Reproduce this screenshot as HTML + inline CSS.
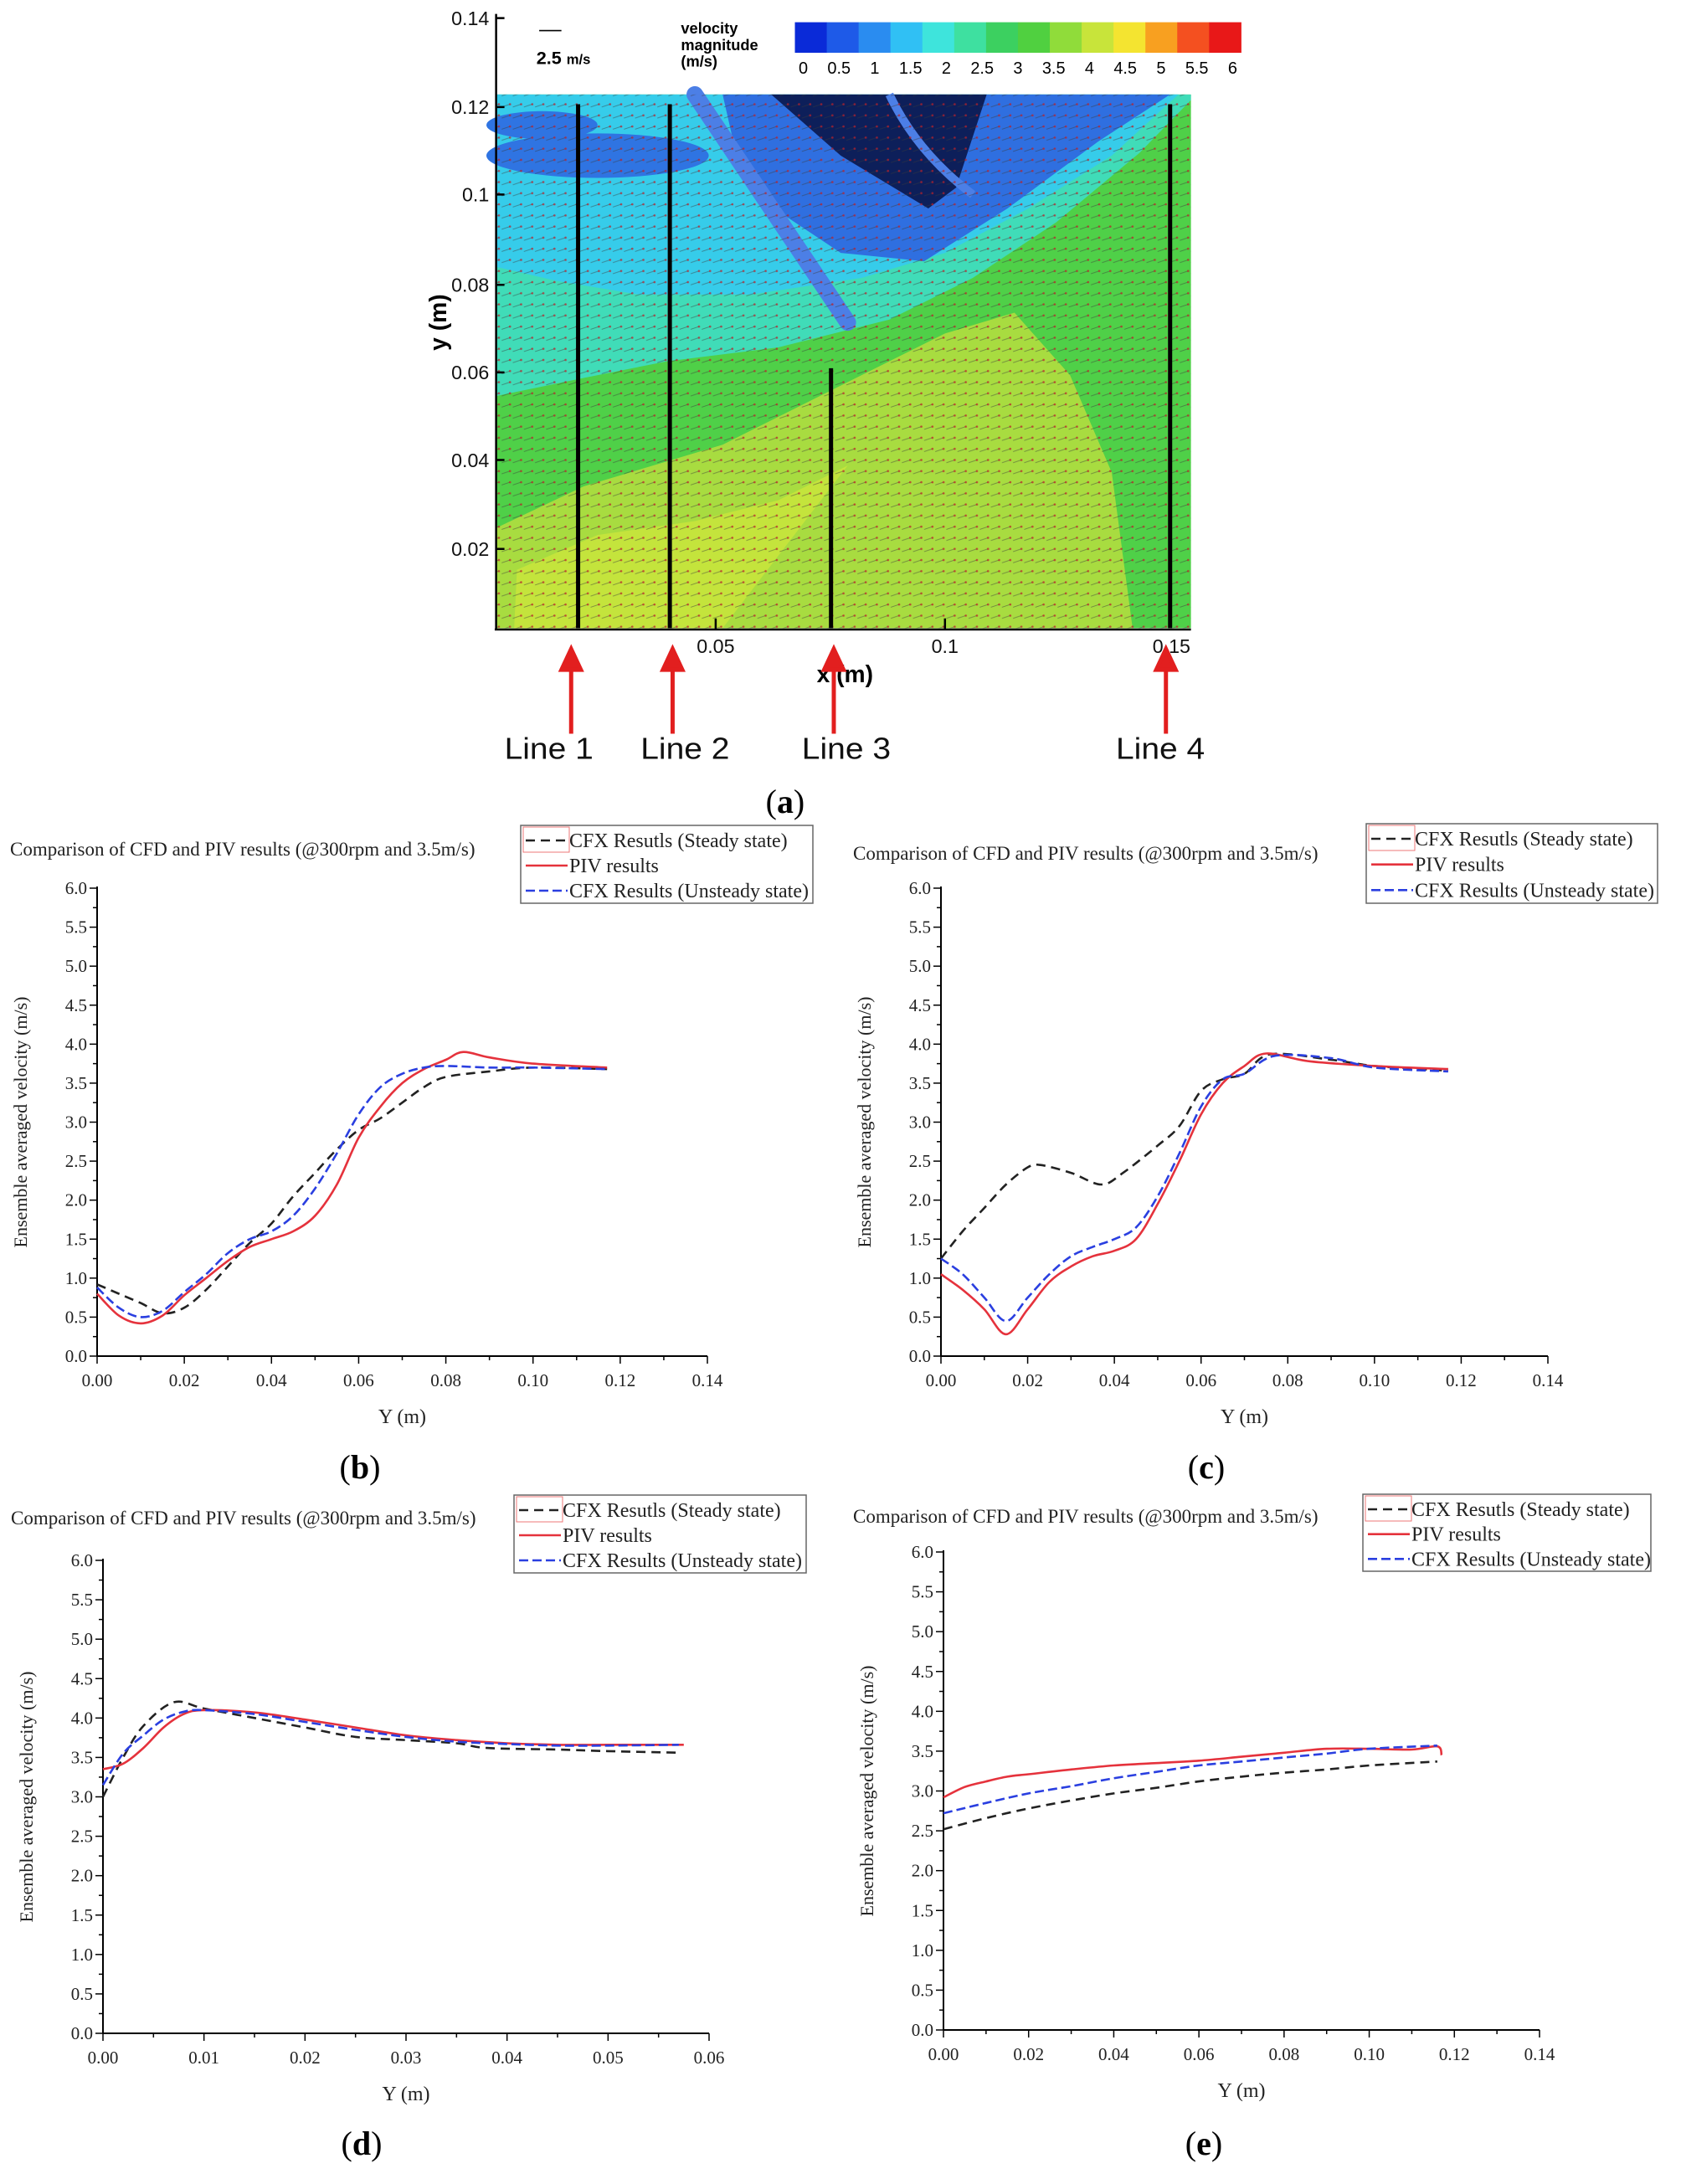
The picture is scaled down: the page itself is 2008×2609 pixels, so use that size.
<!DOCTYPE html>
<html><head><meta charset="utf-8"><style>
html,body{margin:0;padding:0;background:#fff;}
svg{display:block;}
text{font-family:"Liberation Serif",serif;}
text.sans, .sans text{font-family:"Liberation Sans",sans-serif;}
</style></head><body>
<svg id="root" width="2008" height="2609" viewBox="0 0 2008 2609" xmlns="http://www.w3.org/2000/svg">
<defs>
<pattern id="vec" width="8" height="8" patternUnits="userSpaceOnUse">
<line x1="1" y1="5" x2="7" y2="3" stroke="#3a3a3a" stroke-width="0.6" opacity="0.5"/>
<circle cx="7" cy="3" r="0.8" fill="#c0202a" opacity="0.7"/>
</pattern>
</defs>
<g transform="scale(1.66)">
<rect x="357" y="68" width="500" height="384" fill="#4fd048"/>
<polygon points="357,452 357,380 420,350 520,320 600,280 680,240 730,225 770,270 800,340 815,452" fill="#a8dc40"/>
<polygon points="370,452 372,410 430,385 500,375 560,360 610,335 560,400 520,452" fill="#c4e43c"/>
<polygon points="357,68 857,68 857,72 820,110 760,160 700,200 640,230 560,250 480,260 420,272 357,285" fill="#40dcb8"/>
<polygon points="357,68 848,68 800,112 740,150 680,182 620,200 540,212 460,212 400,202 357,192" fill="#36ccea"/>
<ellipse cx="430" cy="112" rx="80" ry="16" fill="#2f74e2"/>
<ellipse cx="390" cy="90" rx="40" ry="10" fill="#2f74e2"/>
<polygon points="520,68 842,68 790,102 725,150 665,188 605,182 560,152 530,112" fill="#2f6fe0"/>
<polygon points="555,68 710,68 688,135 668,150 605,112" fill="#0d1f5a"/>
<line x1="500" y1="68" x2="610" y2="232" stroke="#4c7fe6" stroke-width="12" stroke-linecap="round"/>
<path d="M640,68 Q660,110 700,140" stroke="#4c7fe6" stroke-width="6" fill="none"/>
<rect x="357" y="68" width="500" height="384" fill="url(#vec)"/>
<line x1="416" y1="75" x2="416" y2="452" stroke="#000" stroke-width="3"/>
<line x1="482" y1="75" x2="482" y2="452" stroke="#000" stroke-width="3"/>
<line x1="598" y1="265" x2="598" y2="452" stroke="#000" stroke-width="3"/>
<line x1="842" y1="75" x2="842" y2="452" stroke="#000" stroke-width="3"/>
<line x1="357" y1="10" x2="357" y2="453" stroke="#000" stroke-width="1.5"/>
<line x1="356" y1="453" x2="857" y2="453" stroke="#000" stroke-width="1.5"/>
<g class="sans" font-size="14" fill="#111">
<text x="352" y="18" text-anchor="end">0.14</text>
<text x="352" y="82" text-anchor="end">0.12</text>
<text x="352" y="145" text-anchor="end">0.1</text>
<text x="352" y="210" text-anchor="end">0.08</text>
<text x="352" y="273" text-anchor="end">0.06</text>
<text x="352" y="336" text-anchor="end">0.04</text>
<text x="352" y="400" text-anchor="end">0.02</text>
<text x="515" y="470" text-anchor="middle">0.05</text>
<text x="680" y="470" text-anchor="middle">0.1</text>
<text x="843" y="470" text-anchor="middle">0.15</text>
</g>
<path d="M357,13h6M357,77h6M357,140h6M357,205h6M357,268h6M357,331h6M357,395h6M515,453v-8M680,453v-8" stroke="#000" stroke-width="1.5"/>
<text class="sans" x="608" y="491" font-weight="bold" font-size="17" text-anchor="middle">x (m)</text>
<text class="sans" transform="translate(321,232) rotate(-90)" font-weight="bold" font-size="17" text-anchor="middle">y (m)</text>
<line x1="388" y1="22" x2="404" y2="22" stroke="#000" stroke-width="1"/>
<text class="sans" x="386" y="46" font-weight="bold" font-size="13">2.5 <tspan font-size="10">m/s</tspan></text>
<text class="sans" x="490" y="24" font-weight="bold" font-size="11"><tspan x="490">velocity</tspan><tspan x="490" dy="12">magnitude</tspan><tspan x="490" dy="12">(m/s)</tspan></text>
<g id="cbar" class="sans"></g>
<g stroke="#e21f1f" stroke-width="3" fill="#e21f1f">
<line x1="411" y1="528" x2="411" y2="478"/><polygon points="404,482 411,467 418,482"/>
<line x1="484" y1="528" x2="484" y2="478"/><polygon points="477,482 484,467 491,482"/>
<line x1="600" y1="528" x2="600" y2="478"/><polygon points="593,482 600,467 607,482"/>
<line x1="839" y1="528" x2="839" y2="478"/><polygon points="832,482 839,467 846,482"/>
</g>
<g class="sans" font-size="22" fill="#111">
<text x="395" y="546" text-anchor="middle" textLength="64" lengthAdjust="spacingAndGlyphs">Line 1</text>
<text x="493" y="546" text-anchor="middle" textLength="64" lengthAdjust="spacingAndGlyphs">Line 2</text>
<text x="609" y="546" text-anchor="middle" textLength="64" lengthAdjust="spacingAndGlyphs">Line 3</text>
<text x="835" y="546" text-anchor="middle" textLength="64" lengthAdjust="spacingAndGlyphs">Line 4</text>
</g>
<text x="565" y="585" font-size="24" text-anchor="middle">(<tspan font-weight="bold">a</tspan>)</text>
</g>
<g id="charts"></g>
</svg>
<script>
const cbLabels = ["0","0.5","1","1.5","2","2.5","3","3.5","4","4.5","5","5.5","6"];
const cbColors = ["#0a2ad8","#1e5ae8","#2a8cf0","#30c0f4","#3ee4dc","#3ee0a0","#3cd060","#50d040","#90dc3a","#c8e43a","#f4e430","#f8a020","#f45020","#e81818"];

const bX_steady=[0,0.005,0.01,0.015,0.02,0.025,0.03,0.035,0.04,0.045,0.05,0.055,0.06,0.065,0.07,0.075,0.08,0.09,0.1,0.117];
const bY_steady=[0.92,0.8,0.68,0.55,0.62,0.85,1.15,1.45,1.7,2.05,2.35,2.65,2.9,3.05,3.25,3.45,3.58,3.65,3.7,3.68];
const bX_piv=[0,0.005,0.01,0.015,0.02,0.025,0.03,0.035,0.04,0.045,0.05,0.055,0.06,0.065,0.07,0.075,0.08,0.084,0.09,0.1,0.117];
const bY_piv=[0.8,0.52,0.42,0.52,0.78,1.0,1.22,1.4,1.5,1.6,1.8,2.2,2.8,3.2,3.5,3.68,3.8,3.9,3.83,3.75,3.7];
const bX_uns=[0,0.005,0.01,0.015,0.02,0.025,0.03,0.035,0.04,0.045,0.05,0.055,0.06,0.065,0.07,0.075,0.08,0.09,0.1,0.117];
const bY_uns=[0.88,0.62,0.5,0.58,0.82,1.05,1.32,1.5,1.6,1.8,2.15,2.6,3.1,3.45,3.62,3.7,3.72,3.7,3.7,3.68];

const cX_steady=[0,0.005,0.01,0.015,0.02,0.023,0.03,0.037,0.042,0.05,0.055,0.06,0.065,0.07,0.076,0.09,0.1,0.117];
const cY_steady=[1.25,1.6,1.9,2.2,2.42,2.45,2.35,2.2,2.35,2.7,2.95,3.4,3.55,3.62,3.87,3.8,3.72,3.66];
const cX_piv=[0,0.005,0.01,0.015,0.02,0.025,0.03,0.035,0.04,0.045,0.05,0.055,0.06,0.065,0.07,0.075,0.085,0.1,0.117];
const cY_piv=[1.05,0.85,0.6,0.28,0.6,0.95,1.15,1.28,1.35,1.5,1.95,2.5,3.1,3.5,3.72,3.88,3.78,3.72,3.68];
const cX_uns=[0,0.005,0.01,0.015,0.02,0.025,0.03,0.035,0.04,0.045,0.05,0.055,0.06,0.065,0.07,0.077,0.09,0.1,0.117];
const cY_uns=[1.25,1.05,0.75,0.45,0.75,1.05,1.28,1.4,1.5,1.65,2.05,2.6,3.2,3.55,3.62,3.85,3.82,3.7,3.65];

const dX_steady=[0,0.002,0.004,0.007,0.01,0.015,0.02,0.025,0.03,0.035,0.038,0.045,0.05,0.057];
const dY_steady=[3.0,3.5,3.9,4.2,4.12,4.0,3.88,3.76,3.72,3.68,3.62,3.6,3.58,3.56];
const dX_piv=[0,0.002,0.004,0.006,0.008,0.01,0.015,0.02,0.025,0.03,0.035,0.04,0.045,0.05,0.0575];
const dY_piv=[3.35,3.42,3.62,3.88,4.05,4.1,4.07,3.98,3.88,3.78,3.72,3.68,3.66,3.66,3.66];
const dX_uns=[0,0.002,0.004,0.006,0.008,0.01,0.015,0.02,0.025,0.03,0.035,0.04,0.045,0.05,0.057];
const dY_uns=[3.15,3.55,3.78,3.98,4.08,4.1,4.05,3.95,3.85,3.76,3.7,3.67,3.65,3.65,3.66];

const eX_steady=[0,0.01,0.02,0.03,0.04,0.05,0.06,0.07,0.08,0.09,0.1,0.116];
const eY_steady=[2.52,2.66,2.78,2.88,2.97,3.04,3.12,3.18,3.23,3.27,3.32,3.37];
const eX_piv=[0,0.005,0.01,0.015,0.02,0.03,0.04,0.05,0.06,0.07,0.08,0.09,0.1,0.11,0.116,0.117];
const eY_piv=[2.92,3.05,3.12,3.18,3.21,3.27,3.32,3.35,3.38,3.43,3.48,3.53,3.53,3.52,3.56,3.45];
const eX_uns=[0,0.01,0.02,0.03,0.04,0.05,0.06,0.07,0.08,0.09,0.1,0.116];
const eY_uns=[2.72,2.85,2.97,3.06,3.16,3.24,3.32,3.37,3.42,3.47,3.53,3.57];

const yTickLabels=["0.0","0.5","1.0","1.5","2.0","2.5","3.0","3.5","4.0","4.5","5.0","5.5","6.0"];
const xTickLabels14=["0.00","0.02","0.04","0.06","0.08","0.10","0.12","0.14"];
const xTickLabels06=["0.00","0.01","0.02","0.03","0.04","0.05","0.06"];
const legendLabels=["CFX Resutls (Steady state)","PIV results","CFX Results (Unsteady state)"];

const NS="http://www.w3.org/2000/svg";
function mk(tag,attrs,parent){const e=document.createElementNS(NS,tag);for(const k in attrs)e.setAttribute(k,attrs[k]);if(parent)parent.appendChild(e);return e;}

const cb=document.getElementById('cbar');
const cbx0=572,cbx1=893,cbw=(cbx1-cbx0)/cbColors.length;
cbColors.forEach((c,i)=>{
  const r=mk('rect',{x:cbx0+i*cbw,y:16,width:cbw+0.3,height:22,fill:c},cb);
  
  
});
cbLabels.forEach((l,i)=>{
  const t=mk('text',{x:cbx0+6+i*((cbx1-cbx0-12)/12),y:53,'text-anchor':'middle','font-size':'12'},cb);
  t.textContent=l;
  
  
});

function smooth(pts){
  let d=`M${pts[0][0].toFixed(1)},${pts[0][1].toFixed(1)}`;
  for(let i=0;i<pts.length-1;i++){
    const p0=pts[i-1]||pts[i],p1=pts[i],p2=pts[i+1],p3=pts[i+2]||p2;
    const c1=[p1[0]+(p2[0]-p0[0])/6,p1[1]+(p2[1]-p0[1])/6];
    const c2=[p2[0]-(p3[0]-p1[0])/6,p2[1]-(p3[1]-p1[1])/6];
    d+=`C${c1[0].toFixed(1)},${c1[1].toFixed(1)} ${c2[0].toFixed(1)},${c2[1].toFixed(1)} ${p2[0].toFixed(1)},${p2[1].toFixed(1)}`;
  }
  return d;
}

const charts=[
 {id:'b',ax:116,ay0:1620,ay6:1061,axr:845,xmax:0.14,xl:xTickLabels14,title:[12,1022],leg:[622,986,349,93],lab:[430,1766],
  s:[[bX_steady,bY_steady],[bX_piv,bY_piv],[bX_uns,bY_uns]]},
 {id:'c',ax:1124,ay0:1620,ay6:1061,axr:1849,xmax:0.14,xl:xTickLabels14,title:[1019,1027],leg:[1632,984,348,95],lab:[1441,1766],
  s:[[cX_steady,cY_steady],[cX_piv,cY_piv],[cX_uns,cY_uns]]},
 {id:'d',ax:123,ay0:2429,ay6:1864,axr:847,xmax:0.06,xl:xTickLabels06,title:[13,1821],leg:[614,1786,349,93],lab:[432,2574],
  s:[[dX_steady,dY_steady],[dX_piv,dY_piv],[dX_uns,dY_uns]]},
 {id:'e',ax:1127,ay0:2425,ay6:1854,axr:1839,xmax:0.14,xl:xTickLabels14,title:[1019,1819],leg:[1628,1785,344,92],lab:[1438,2574],
  s:[[eX_steady,eY_steady],[eX_piv,eY_piv],[eX_uns,eY_uns]]}
];
const styles=[{stroke:'#222',dash:'11,7'},{stroke:'#e5323c',dash:''},{stroke:'#2a3fe0',dash:'11,5'}];
const seriesNames=['steady-state-line','piv-line','unsteady-state-line'];

const root=document.getElementById('charts');
charts.forEach(c=>{
  const g=mk('g',{},root);
  
  
  const xs=v=>c.ax+v/c.xmax*(c.axr-c.ax);
  const ys=v=>c.ay0-v/6*(c.ay0-c.ay6);
  const yA=mk('line',{x1:c.ax,y1:c.ay6-2,x2:c.ax,y2:c.ay0,stroke:'#000','stroke-width':2},g);
  
  
  const xA=mk('line',{x1:c.ax,y1:c.ay0,x2:c.axr,y2:c.ay0,stroke:'#000','stroke-width':2},g);
  
  
  for(let i=0;i<=24;i++){
    const y=ys(i*0.25);
    mk('line',{x1:c.ax-(i%2?5:9),y1:y,x2:c.ax,y2:y,stroke:'#000','stroke-width':1.5},g);
  }
  yTickLabels.forEach((l,i)=>{
    const t=mk('text',{x:c.ax-12,y:ys(i*0.5)+7,'text-anchor':'end','font-size':21,fill:'#222'},g);
    t.textContent=l;
    
    
  });
  const n=c.xl.length-1;
  for(let i=0;i<=n*2;i++){
    const x=xs(i*c.xmax/(n*2));
    mk('line',{x1:x,y1:c.ay0,x2:x,y2:c.ay0+(i%2?5:9),stroke:'#000','stroke-width':1.5},g);
  }
  c.xl.forEach((l,i)=>{
    const t=mk('text',{x:xs(i*c.xmax/n),y:c.ay0+36,'text-anchor':'middle','font-size':21,fill:'#222'},g);
    t.textContent=l;
    
    
  });
  const xt=mk('text',{x:(c.ax+c.axr)/2,y:c.ay0+80,'text-anchor':'middle','font-size':24,fill:'#222'},g);
  xt.textContent='Y (m)';
  
  
  const yx=c.ax-84,yy=(c.ay0+c.ay6)/2;
  const yt=mk('text',{x:yx,y:yy,transform:`rotate(-90 ${yx} ${yy})`,'text-anchor':'middle','font-size':22,fill:'#222'},g);
  yt.textContent='Ensemble averaged velocity (m/s)';
  
  
  const tt=mk('text',{x:c.title[0],y:c.title[1],'font-size':23,fill:'#222'},g);
  tt.textContent='Comparison of CFD and PIV results (@300rpm and 3.5m/s)';
  
  
  c.s.forEach((s,k)=>{
    const pts=s[0].map((x,i)=>[xs(x),ys(s[1][i])]);
    const p=mk('path',{d:smooth(pts),fill:'none',stroke:styles[k].stroke,'stroke-width':2.6,'stroke-dasharray':styles[k].dash,'stroke-linejoin':'round'},g);
    
    
  });
  const [lx,ly,lw,lh]=c.leg;
  const lg=mk('g',{},g);
  
  
  mk('rect',{x:lx,y:ly,width:lw,height:lh,fill:'#fff',stroke:'#666','stroke-width':1.5},lg);
  mk('rect',{x:lx+3,y:ly+2,width:55,height:30,fill:'none',stroke:'#e77','stroke-width':1},lg);
  legendLabels.forEach((l,k)=>{
    const yy=ly+18+k*lh/3.1;
    const ln=mk('line',{x1:lx+6,y1:yy,x2:lx+56,y2:yy,stroke:styles[k].stroke,'stroke-width':2.6,'stroke-dasharray':styles[k].dash},lg);
    
    
    const t=mk('text',{x:lx+58,y:yy+8,'font-size':24,fill:'#222'},lg);
    t.textContent=l;
    
    
  });
  const lab=mk('text',{x:c.lab[0],y:c.lab[1],'text-anchor':'middle','font-size':40},g);
  lab.innerHTML='(<tspan font-weight="bold">'+c.id+'</tspan>)';
  
  
});
</script>
</body></html>
